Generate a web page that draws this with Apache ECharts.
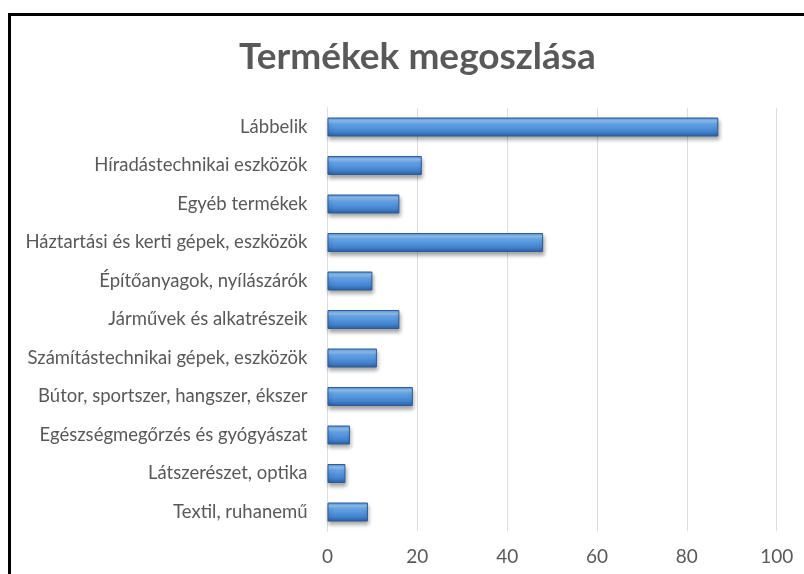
<!DOCTYPE html>
<html>
<head>
<meta charset="utf-8">
<script src="https://cdn.jsdelivr.net/npm/echarts@6/dist/echarts.min.js"></script>
<style>
  html, body {
    margin: 0;
    padding: 0;
    background: #fff;
  }
  .frame {
    position: absolute;
    left: 8px;
    top: 13px;
    width: 796px;
    height: 561px;
    border-top: 3px solid #000;
    border-left: 3px solid #000;
  }
  #chart {
    position: absolute;
    left: 0;
    top: 0;
    width: 804px;
    height: 574px;
  }
</style>
</head>
<body>
<div class="frame"></div>
<div id="chart"></div>
<script>
const categories = [
  'Lábbelik',
  'Híradástechnikai eszközök',
  'Egyéb termékek',
  'Háztartási és kerti gépek, eszközök',
  'Építőanyagok, nyílászárók',
  'Járművek és alkatrészeik',
  'Számítástechnikai gépek, eszközök',
  'Bútor, sportszer, hangszer, ékszer',
  'Egészségmegőrzés és gyógyászat',
  'Látszerészet, optika',
  'Textil, ruhanemű'
];
const values = [87, 21, 16, 48, 10, 16, 11, 19, 5, 4, 9];
const xTicks = [0, 20, 40, 60, 80, 100];

const chart = echarts.init(document.getElementById('chart'));

chart.setOption({
  animation: false,
  title: {
    text: 'Termékek megoszlása',
    left: 234,
    top: 34,
    textStyle: {
      fontFamily: 'Lato',
      fontWeight: 'bold',
      fontSize: 37,
      color: '#595959'
    }
  },
  grid: {
    left: 327.5,
    right: 27.3,
    top: 107.75,
    bottom: 42.75
  },
  xAxis: {
    type: 'value',
    min: xTicks[0],
    max: xTicks[xTicks.length - 1],
    interval: 20,
    axisLine: { show: false },
    axisTick: { show: false },
    splitLine: {
      lineStyle: { color: '#dedede', width: 1 }
    },
    axisLabel: {
      margin: 16,
      fontFamily: 'Lato',
      fontSize: 19,
      color: '#595959'
    }
  },
  yAxis: {
    type: 'category',
    inverse: true,
    data: categories,
    axisLine: {
      lineStyle: { color: '#dedede', width: 1 }
    },
    axisTick: { show: false },
    axisLabel: {
      margin: 20,
      fontFamily: 'Lato',
      fontSize: 18.5,
      color: '#595959'
    }
  },
  series: [
    {
      type: 'bar',
      data: values,
      barWidth: 19,
      itemStyle: {
        color: new echarts.graphic.LinearGradient(0, 0, 0, 1, [
          { offset: 0, color: '#4f8ed8' },
          { offset: 0.18, color: '#94c4f4' },
          { offset: 0.35, color: '#63a3e8' },
          { offset: 0.75, color: '#4383cf' },
          { offset: 1, color: '#2d5e9c' }
        ]),
        borderColor: '#2d5d98',
        borderWidth: 1,
        shadowColor: 'rgba(0, 0, 0, 0.35)',
        shadowBlur: 4,
        shadowOffsetX: 1,
        shadowOffsetY: 3
      }
    }
  ]
});
</script>
</body>
</html>
